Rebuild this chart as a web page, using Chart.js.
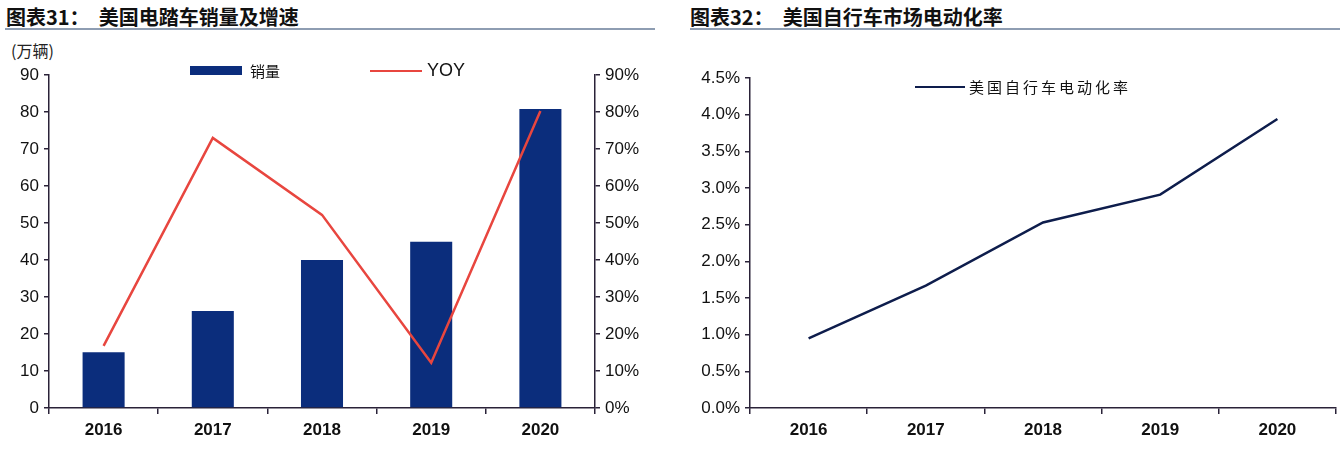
<!DOCTYPE html>
<html>
<head>
<meta charset="utf-8">
<script src="https://cdn.jsdelivr.net/npm/chart.js@4.4.1/dist/chart.umd.min.js"></script>
<style>
  body { margin: 0; background: #fff; width: 1340px; height: 452px; overflow: hidden; position: relative; font-family: "Liberation Sans", Arial, sans-serif; }
  .panel { position: absolute; top: 0; width: 670px; height: 452px; }
  .title { position: absolute; top: 2px; font: bold 20px "Noto Sans CJK SC", sans-serif; color: #111; white-space: pre; }
  .rule { position: absolute; top: 28px; height: 2px; background: #8e9db2; }
  .unit { position: absolute; left: 11px; top: 38px; font: 16px "Noto Sans CJK SC", sans-serif; color: #222; }
  .leg { position: absolute; display: flex; align-items: center; color: #111; }
  .leg span { display: inline-block; margin-right: 8px; }
  canvas { position: absolute; left: 0; top: 0; }
</style>
</head>
<body>
<div class="panel" style="left:0">
  <div class="title" style="left:6px">图表31：  美国电踏车销量及增速</div>
  <div class="rule" style="left:5px;width:650px"></div>
  <div class="unit">(万辆)</div>
  <canvas id="c1" width="670" height="452"></canvas>
  <div class="leg" id="leg1a" style="left:190px;top:60px;font:15px 'Noto Sans CJK SC',sans-serif"></div>
  <div class="leg" id="leg1b" style="left:370px;top:60px;font:18px 'Liberation Sans',Arial,sans-serif"></div>
</div>
<div class="panel" style="left:670px">
  <div class="title" style="left:20px">图表32：  美国自行车市场电动化率</div>
  <div class="rule" style="left:20px;width:650px"></div>
  <canvas id="c2" width="670" height="452"></canvas>
  <div class="leg" id="leg2" style="left:245px;top:76px;font:15px 'Noto Sans CJK SC',sans-serif;letter-spacing:3px"></div>
</div>
<script>
// data
const years = ["2016", "2017", "2018", "2019", "2020"];
const salesLabel = "销量";
const sales = [15.1, 26.2, 40, 44.9, 80.8];        // 万辆
const yoyLabel = "YOY";
const yoy = [16.8, 73, 52.2, 12.2, 80.3];          // %
const leftTicks = [0, 10, 20, 30, 40, 50, 60, 70, 80, 90];
const rateLabel = "美国自行车电动化率";
const rate = [0.95, 1.67, 2.53, 2.91, 3.94];        // %
const rateTicks = [0, 0.5, 1, 1.5, 2, 2.5, 3, 3.5, 4, 4.5];

const navy = "#0b2d7c";
const red = "#e8463f";
const lineNavy = "#0e1d4c";
const axisCol = "#2a2238";

const tickFont = { family: "'Liberation Sans', Arial, sans-serif", size: 17 };
const yearFont = { family: "'Liberation Sans', Arial, sans-serif", size: 17, weight: "bold" };

function yAxis(pos, width, max, fmt, ticks) {
  return {
    position: pos,
    min: 0,
    max: max,
    afterBuildTicks: s => { s.ticks = ticks.map(v => ({ value: v })); },
    afterFit: s => { s.width = width; },
    ticks: { font: tickFont, color: "#111", padding: 5, callback: fmt },
    grid: { drawOnChartArea: false, tickLength: 5, color: axisCol, lineWidth: 1.5 },
    border: { color: axisCol, width: 1.5 }
  };
}

function xAxis() {
  return {
    offset: true,
    afterFit: s => { s.height = 44; },
    ticks: { font: yearFont, color: "#111", padding: 6 },
    grid: { offset: true, drawOnChartArea: false, tickLength: 6, color: axisCol, lineWidth: 1.5 },
    border: { color: axisCol, width: 1.5 }
  };
}

Chart.defaults.animation = false;
Chart.defaults.plugins.legend.display = false;
Chart.defaults.plugins.tooltip.enabled = false;

new Chart(document.getElementById("c1"), {
  type: "bar",
  data: {
    labels: years,
    datasets: [
      { type: "line", label: yoyLabel, data: yoy, yAxisID: "y1", borderColor: red, borderWidth: 2.5,
        pointRadius: 0, tension: 0, order: 0 },
      { label: salesLabel, data: sales, yAxisID: "y", backgroundColor: navy,
        categoryPercentage: 1, barPercentage: 0.385, order: 1 }
    ]
  },
  options: {
    responsive: false,
    layout: { padding: { top: 75, left: 0, right: 0, bottom: 0 } },
    scales: {
      x: xAxis(),
      y: yAxis("left", 49, 90, v => v, leftTicks),
      y1: yAxis("right", 75, 90, v => v + "%", leftTicks)
    }
  }
});

new Chart(document.getElementById("c2"), {
  type: "line",
  data: {
    labels: years,
    datasets: [
      { label: rateLabel, data: rate, borderColor: lineNavy, borderWidth: 2.5, pointRadius: 0, tension: 0 }
    ]
  },
  options: {
    responsive: false,
    layout: { padding: { top: 78, left: 0, right: 4, bottom: 0 } },
    scales: {
      x: xAxis(),
      y: yAxis("left", 80, 4.5, v => v.toFixed(1) + "%", rateTicks)
    }
  }
});

// legends
document.getElementById("leg1a").innerHTML =
  '<span style="width:52px;height:9px;background:' + navy + '"></span>' + salesLabel;
document.getElementById("leg1b").innerHTML =
  '<span style="width:52px;height:2px;background:' + red + ';margin-right:5px"></span>' + yoyLabel;
document.getElementById("leg2").innerHTML =
  '<span style="width:50px;height:2px;background:' + lineNavy + ';margin-right:4px"></span>' + rateLabel;
</script>
</body>
</html>
